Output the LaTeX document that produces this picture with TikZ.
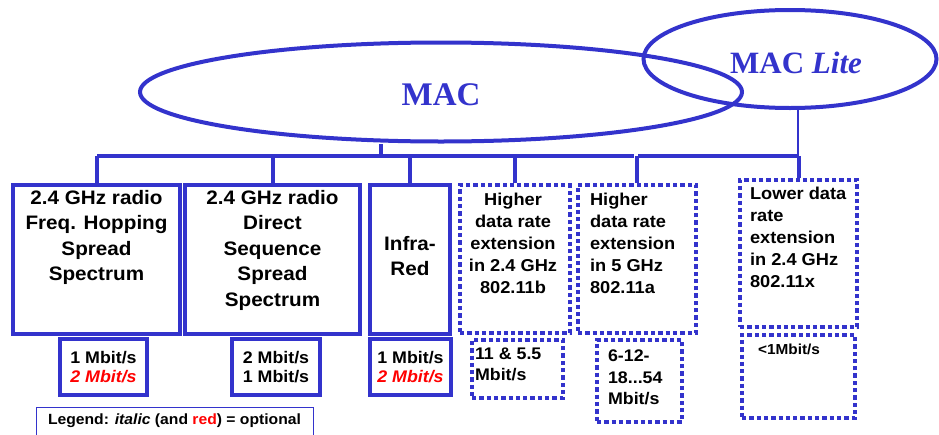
\documentclass[tikz,border=0pt]{standalone}
\usepackage{fontspec}
\setmainfont{Liberation Sans}[FakeStretch=1.06]
\newfontfamily\macfont{Liberation Serif}
\usetikzlibrary{shapes.geometric}

\definecolor{macblue}{RGB}{51,51,204}
\definecolor{optred}{RGB}{255,0,0}

\begin{document}
\begin{tikzpicture}[x=1pt,y=-1pt,
    solidbox/.style={draw=macblue,line width=4pt,inner sep=0pt},
    dotbox/.style={solidbox,line width=4.3pt,dash pattern=on 4.3pt off 3pt},
    oval/.style={ellipse,draw=macblue,line width=4pt,inner sep=0pt},
    bus/.style={draw=macblue,line width=4.5pt},
    drop/.style={draw=macblue,line width=4pt},
    bigtxt/.style={font=\fontsize{19.5}{25.5}\selectfont\bfseries,align=center,inner sep=0pt},
    midtxt/.style={font=\fontsize{17.2}{22}\selectfont\bfseries,inner sep=0pt},
    ratetxt/.style={font=\fontsize{16.8}{18.5}\selectfont\bfseries,inner sep=0pt}]
  \useasboundingbox[fill=white] (0,0) rectangle (939,434);

  % the two MAC ellipses
  \node[oval,minimum width=602,minimum height=99] (mac) at (441,92) {};
  \node[oval,minimum width=293,minimum height=98] (lite) at (790,59) {};
  \node[text=macblue,font=\macfont\bfseries\fontsize{33}{36}\selectfont] (mactxt) at (441,95) {MAC};
  \node[text=macblue,font=\macfont\bfseries\fontsize{31}{34}\selectfont] (litetxt) at (796,63) {MAC \textit{Lite}};

  % PHY boxes
  \node[solidbox,minimum width=167,minimum height=149] (fh) at (96.5,259.5) {};
  \node[solidbox,minimum width=175,minimum height=149] (ds) at (272.5,259.5) {};
  \node[solidbox,minimum width=80,minimum height=149] (ir) at (410,259.5) {};
  \node[dotbox,minimum width=110,minimum height=148] (hb) at (515,259) {};
  \node[dotbox,minimum width=118,minimum height=148] (ha) at (637,259) {};
  \node[dotbox,minimum width=117,minimum height=147] (lx) at (798.5,253.5) {};

  \node[bigtxt,anchor=north,yshift=-7pt] (tfh) at (fh.north)
    {2.4 GHz radio\\Freq. Hopping\\Spread\\Spectrum};
  \node[bigtxt,anchor=north,yshift=-7pt] (tds) at (ds.north)
    {2.4 GHz radio\\Direct\\Sequence\\Spread\\Spectrum};
  \node[bigtxt] (tir) at (410,256) {Infra-\\Red};
  \node[midtxt,align=center,anchor=north,yshift=-10pt,xshift=-2pt] (thb) at (hb.north)
    {Higher\\data rate\\extension\\in 2.4 GHz\\802.11b};
  \node[midtxt,align=left,anchor=north west,yshift=-10pt,xshift=14pt] (tha) at (ha.north west)
    {Higher\\data rate\\extension\\in 5 GHz\\802.11a};
  \node[midtxt,align=left,anchor=north west,yshift=-9pt,xshift=12pt] (tlx) at (lx.north west)
    {Lower data\\rate\\extension\\in 2.4 GHz\\802.11x};

  % data rates
  \node[solidbox,minimum width=87,minimum height=56] (rfh) at (103.5,367) {};
  \node[solidbox,minimum width=88,minimum height=56] (rds) at (276,367) {};
  \node[solidbox,minimum width=81,minimum height=56] (rir) at (410.5,367) {};
  \node[dotbox,minimum width=91,minimum height=58] (rhb) at (517.5,369) {};
  \node[dotbox,minimum width=85,minimum height=82] (rha) at (639.5,381) {};
  \node[dotbox,minimum width=113,minimum height=83] (rlx) at (798.5,376.5) {};

  \node[ratetxt,align=center] (trfh) at (rfh.center) {1 Mbit/s\\{\color{optred}\itshape 2 Mbit/s}};
  \node[ratetxt,align=center] (trds) at (rds.center) {2 Mbit/s\\1 Mbit/s};
  \node[ratetxt,align=center] (trir) at (rir.center) {1 Mbit/s\\{\color{optred}\itshape 2 Mbit/s}};
  \node[ratetxt,align=left,anchor=north west,xshift=5pt,yshift=-10pt,
    font=\fontsize{16.8}{21}\selectfont\bfseries] (trhb) at (rhb.north west) {11 \& 5.5\\Mbit/s};
  \node[ratetxt,align=left,anchor=north west,xshift=13pt,yshift=-12pt,
    font=\fontsize{16.8}{21.5}\selectfont\bfseries] (trha) at (rha.north west) {6-12-\\18...54\\Mbit/s};
  \node[ratetxt,anchor=north west,xshift=18pt,yshift=-11pt,
    font=\fontsize{14.5}{16}\selectfont\bfseries] (trlx) at (rlx.north west) {<1Mbit/s};

  % legend
  \node[draw=macblue,line width=1pt,minimum width=277,minimum height=36,inner sep=0pt] (legend) at (174.5,425) {};
  \node[font=\fontsize{14.8}{16}\selectfont\bfseries,inner sep=0pt] (legtxt) at (174.5,421)
    {Legend: \textit{italic} (and {\color{optred}red}) = optional};

  % tree lines
  \coordinate (busl) at (97,156);
  \coordinate (busr) at (634,156);
  \coordinate (litel) at (638,156);
  \coordinate (liter) at (798,156);
  \coordinate (macdrop) at (381,156);
  \draw[bus] (busl) -- (busr);
  \draw[bus] (litel) -- (liter);
  \draw[drop] (macdrop) -- (macdrop |- mac.south);
  \draw[draw=macblue,line width=2pt] (liter) -- (liter |- lite.south);
  \foreach \b in {fh,ds,ir,hb,ha}
    \draw[drop] (\b.north) -- (\b.north |- busl);
  \draw[drop] (lx.north) -- (lx.north |- liter);
\end{tikzpicture}
\end{document}
